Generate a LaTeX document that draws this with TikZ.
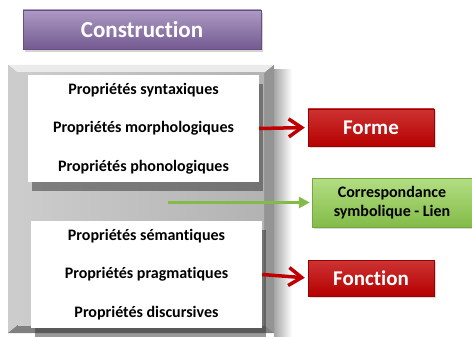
\documentclass[tikz,border=0pt]{standalone}
\usepackage{fontspec}
\setmainfont[Ligatures=NoCommon]{Carlito}
\usetikzlibrary{arrows.meta,shadows,positioning}
\definecolor{violetC}{HTML}{8064A2}
\definecolor{rougeC}{HTML}{C00000}
\definecolor{vertC}{HTML}{92D050}

\begin{document}
\begin{tikzpicture}[x=1pt,y=-1pt,
  titrebox/.style={rectangle, top color=violetC!65!white, bottom color=violetC!90!black,
    draw=violetC!80!black, line width=0.4pt, text=white,
    font=\fontsize{23}{26}\selectfont\bfseries,
    drop shadow={opacity=0.35, shadow xshift=2pt, shadow yshift=-3pt}},
  propbox/.style={rectangle, fill=white, align=center,
    font=\fontsize{16}{38.5}\selectfont\bfseries,
    drop shadow={opacity=0.5, fill=black!80, shadow xshift=4pt, shadow yshift=-9pt}},
  rougebox/.style={rectangle, top color=rougeC!80!white, bottom color=rougeC!95!black,
    draw=rougeC!80!black, line width=0.4pt, text=white,
    minimum width=126pt, font=\fontsize{21}{24}\selectfont\bfseries,
    drop shadow={opacity=0.3, shadow xshift=2pt, shadow yshift=-2pt}},
  vertbox/.style={rectangle, top color=vertC!70!white, bottom color=vertC!90!black,
    draw=vertC!80!black, line width=0.4pt, align=center,
    font=\fontsize{16}{18.5}\selectfont\bfseries,
    drop shadow={opacity=0.3, shadow xshift=2pt, shadow yshift=-2pt}},
  fleche/.style={rougeC, line width=3.5pt, -{Straight Barb[length=13pt,width=18pt]}, shorten >=3pt},
  lien/.style={vertC!90!black, line width=3pt, -{Triangle[length=11pt,width=11pt]}, shorten >=2pt}]
\useasboundingbox (0,0) rectangle (472,337);

% panneau gris en relief
\shade[left color=black!35, right color=white] (274,70) rectangle (292,338);
\fill[black!45] (8,65) rectangle (274,333);
\fill[black!8] (8,65) -- (274,65) -- (264,73) -- (18,73) -- cycle;
\fill[black!20] (8,65) -- (18,73) -- (18,325) -- (8,333) -- cycle;
\fill[black!50] (8,333) -- (18,325) -- (264,325) -- (274,333) -- cycle;
\fill[black!42] (274,65) -- (264,73) -- (264,325) -- (274,333) -- cycle;
\shade[left color=black!20, right color=black!30] (18,73) rectangle (264,325);

\node[titrebox, minimum width=238pt, minimum height=39pt] (construction) at (142,29.5) {Construction};

\node[propbox, minimum width=231pt, minimum height=107pt] (forme_props) at (143.5,128.5)
  {Propriétés syntaxiques\\Propriétés morphologiques\\Propriétés phonologiques};
\node[propbox, minimum width=231pt, minimum height=107pt] (fonction_props) at (146.5,274.5)
  {Propriétés sémantiques\\Propriétés pragmatiques\\Propriétés discursives};

\node[rougebox, minimum height=37pt] (forme) at (371,127.5) {Forme};
\node[rougebox, minimum height=36pt] (fonction) at (371,278) {Fonction};
\node[vertbox, minimum width=160pt, minimum height=49pt] (corresp) at (392,202.5)
  {Correspondance\\symbolique - Lien};

\coordinate (depart) at (168,202.5);

\draw[fleche] (forme_props.east) -- (forme.west);
\draw[fleche] (fonction_props.east) -- (fonction.west);
\draw[lien] (depart) -- (corresp.west);
\end{tikzpicture}
\end{document}
